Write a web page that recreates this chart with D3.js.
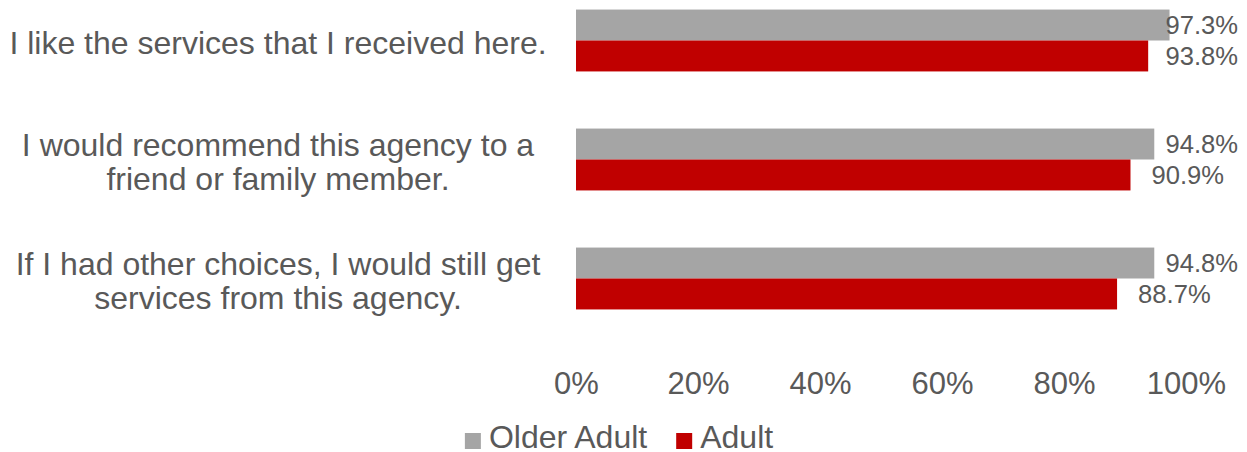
<!DOCTYPE html>
<html>
<head>
<meta charset="utf-8">
<script src="https://cdn.jsdelivr.net/npm/d3@7"></script>
<style>
  html, body { margin: 0; padding: 0; background: #ffffff; }
  svg { display: block; font-family: "Liberation Sans", Arial, sans-serif; }
</style>
</head>
<body>
<svg id="chart" width="1247" height="452"></svg>
<script>
// Survey statements (each entry holds the wrapped lines of one label)
const categories = [
  "I like the services that I received here.",
  "I would recommend this agency to a friend or family member.",
  "If I had other choices, I would still get services from this agency."
];
const categoryLines = [
  ["I like the services that I received here."],
  ["I would recommend this agency to a", "friend or family member."],
  ["If I had other choices, I would still get", "services from this agency."]
];
const seriesNames = ["Older Adult", "Adult"];
const olderAdult = [0.973, 0.948, 0.948];
const adult = [0.938, 0.909, 0.887];
const tickValues = [0, 0.2, 0.4, 0.6, 0.8, 1.0];
const seriesColors = ["#A5A5A5", "#C00000"];

const seriesValues = [olderAdult, adult];
const textColor = "#595959";

const svg = d3.select("#chart");

const x = d3.scaleLinear().domain([0, 1]).range([576, 1186]);
const y = d3.scaleBand().domain(categories).range([-19, 338])
  .paddingInner(0.48).paddingOuter(0.24);
const ySub = d3.scaleBand().domain(seriesNames).range([0, y.bandwidth()]).padding(0);

// bars
const groups = svg.append("g").selectAll("g")
  .data(categories)
  .join("g")
  .attr("transform", d => `translate(0,${y(d)})`);

groups.selectAll("rect")
  .data((d, i) => seriesNames.map((s, j) => ({ s, j, v: seriesValues[j][i] })))
  .join("rect")
  .attr("x", x(0))
  .attr("y", d => ySub(d.s))
  .attr("width", d => x(d.v) - x(0))
  .attr("height", ySub.bandwidth())
  .attr("fill", d => seriesColors[d.j]);

// value labels, kept inside the chart's right edge
const labelRight = 1238;
groups.selectAll("text.val")
  .data((d, i) => seriesNames.map((s, j) => ({ s, j, v: seriesValues[j][i] })))
  .join("text")
  .attr("class", "val")
  .attr("y", d => ySub(d.s) + ySub.bandwidth() / 2 + 9)
  .attr("font-size", 25.6)
  .attr("fill", textColor)
  .text(d => d3.format(".1%")(d.v))
  .each(function (d) {
    const w = this.getComputedTextLength();
    d3.select(this).attr("x", Math.min(x(d.v) + 21, labelRight - w));
  });

// category labels
const lineH = 34;
const labelCenterX = 278;
categories.forEach((c, i) => {
  const lines = categoryLines[i];
  const cy = y(c) + y.bandwidth() / 2 + 2;
  const t = svg.append("text")
    .attr("text-anchor", "middle")
    .attr("font-size", 32)
    .attr("fill", textColor);
  lines.forEach((ln, k) => {
    t.append("tspan")
      .attr("x", labelCenterX)
      .attr("y", cy + (k - (lines.length - 1) / 2) * lineH + 11.5)
      .text(ln);
  });
});

// x axis
const xAxis = d3.axisBottom(x).tickValues(tickValues).tickSize(0).tickPadding(0)
  .tickFormat(d3.format(".0%"));
const ax = svg.append("g").attr("transform", "translate(0,372)").call(xAxis);
ax.select(".domain").remove();
ax.selectAll("text")
  .attr("font-size", 31)
  .attr("font-family", "Liberation Sans, Arial, sans-serif")
  .attr("fill", textColor)
  .attr("dy", "0.71em");

// legend
const legend = svg.append("g");
const sq = 16, gapSq = 8, gapItem = 29, legendFont = 32;
let cursor = 0;
seriesNames.forEach((s, j) => {
  const g = legend.append("g").attr("transform", `translate(${cursor},0)`);
  g.append("rect").attr("x", 0).attr("y", -15).attr("width", sq).attr("height", sq)
    .attr("fill", seriesColors[j]);
  const t = g.append("text").attr("x", sq + gapSq).attr("y", 0)
    .attr("font-size", legendFont).attr("fill", textColor).text(s);
  cursor += sq + gapSq + t.node().getComputedTextLength() + gapItem;
});
const legendW = cursor - gapItem;
legend.attr("transform", `translate(${619 - legendW / 2},448)`);
</script>
</body>
</html>
